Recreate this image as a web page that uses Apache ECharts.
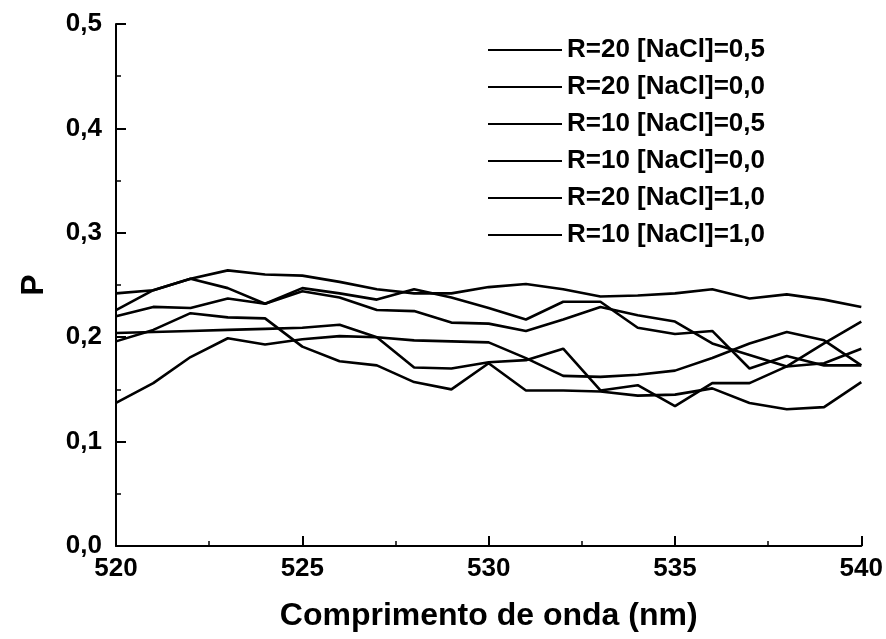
<!DOCTYPE html>
<html>
<head>
<meta charset="utf-8">
<script src="https://cdn.jsdelivr.net/npm/echarts@6/dist/echarts.min.js"></script>
<style>
  html, body { margin: 0; padding: 0; background: #fff; }
  #chart { width: 886px; height: 639px; }
</style>
</head>
<body>
<div id="chart"></div>
<script>
// comprimento de onda (nm)
const wavelengths = [520, 521, 522, 523, 524, 525, 526, 527, 528, 529, 530,
  531, 532, 533, 534, 535, 536, 537, 538, 539, 540]

const seriesNames = [
  'R=20 [NaCl]=0,5',
  'R=20 [NaCl]=0,0',
  'R=10 [NaCl]=0,5',
  'R=10 [NaCl]=0,0',
  'R=20 [NaCl]=1,0',
  'R=10 [NaCl]=1,0'
]

// values
const r20n05 = [0.242, 0.245, 0.256, 0.264, 0.260, 0.259, 0.253, 0.246, 0.242, 0.242, 0.248,
  0.251, 0.246, 0.239, 0.240, 0.242, 0.246, 0.237, 0.241, 0.236, 0.229]
const r20n00 = [0.226, 0.245, 0.256, 0.247, 0.232, 0.247, 0.242, 0.236, 0.246, 0.238, 0.228,
  0.217, 0.234, 0.234, 0.209, 0.203, 0.206, 0.170, 0.182, 0.173, 0.173]
const r10n05 = [0.220, 0.229, 0.228, 0.237, 0.232, 0.244, 0.238, 0.226, 0.225, 0.214, 0.213,
  0.206, 0.217, 0.229, 0.221, 0.215, 0.194, 0.183, 0.172, 0.175, 0.189]
const r10n00 = [0.196, 0.207, 0.223, 0.219, 0.218, 0.191, 0.177, 0.173, 0.157, 0.150, 0.175,
  0.149, 0.149, 0.148, 0.144, 0.145, 0.151, 0.137, 0.131, 0.133, 0.157]
const r20n10 = [0.204, 0.205, 0.206, 0.207, 0.208, 0.209, 0.212, 0.200, 0.171, 0.170, 0.176,
  0.178, 0.189, 0.149, 0.154, 0.134, 0.156, 0.156, 0.172, 0.194, 0.215]
const r10n10 = [0.137, 0.156, 0.181, 0.199, 0.193, 0.198, 0.201, 0.200, 0.197, 0.196, 0.195,
  0.180, 0.163, 0.162, 0.164, 0.168, 0.180, 0.194, 0.205, 0.197, 0.173]

const allValues = [r20n05, r20n00, r10n05, r10n00, r20n10, r10n10]

const yTicks = [0, 0.1, 0.2, 0.3, 0.4, 0.5]

const chart = echarts.init(document.getElementById('chart'))
const fam = '"Liberation Sans", Arial, sans-serif'

chart.setOption({
  animation: false,
  backgroundColor: '#fff',
  grid: { left: 116, right: 24, top: 24, bottom: 93 },
  legend: {
    show: true,
    orient: 'vertical',
    left: 483,
    top: 32,
    icon: 'rect',
    itemWidth: 74,
    itemHeight: 2,
    itemGap: 11,
    itemStyle: { color: '#000', borderWidth: 0 },
    textStyle: { fontFamily: fam, fontSize: 26, fontWeight: 'bold', color: '#000', lineHeight: 26 },
    data: seriesNames
  },
  xAxis: {
    type: 'value',
    min: 520,
    max: 540,
    interval: 5,
    name: 'Comprimento de onda (nm)',
    nameLocation: 'middle',
    nameGap: 54,
    nameTextStyle: { fontFamily: fam, fontSize: 32, fontWeight: 'bold', color: '#000' },
    axisLine: { lineStyle: { color: '#000', width: 2 } },
    axisTick: { inside: true, length: 10, lineStyle: { color: '#000', width: 2 } },
    minorTick: { show: true, splitNumber: 2, length: 5, lineStyle: { color: '#000', width: 1.5 } },
    splitLine: { show: false },
    axisLabel: { margin: 10, fontFamily: fam, fontSize: 26, fontWeight: 'bold', color: '#000' }
  },
  yAxis: {
    type: 'value',
    min: 0,
    max: 0.5,
    interval: 0.1,
    name: 'P',
    nameLocation: 'middle',
    nameGap: 66,
    nameRotate: 90,
    nameTextStyle: { fontFamily: fam, fontSize: 32, fontWeight: 'bold', color: '#000' },
    axisLine: { show: true, lineStyle: { color: '#000', width: 2 } },
    axisTick: { show: true, inside: true, length: 10, lineStyle: { color: '#000', width: 2 } },
    minorTick: { show: true, splitNumber: 2, length: 5, lineStyle: { color: '#000', width: 1.5 } },
    splitLine: { show: false },
    axisLabel: {
      margin: 14,
      fontFamily: fam,
      fontSize: 26,
      fontWeight: 'bold',
      color: '#000',
      formatter: v => {
        const t = yTicks.find(k => Math.abs(k - v) < 1e-9)
        return (t !== undefined ? t : v).toFixed(1).replace('.', ',')
      }
    }
  },
  series: seriesNames.map((name, i) => ({
    name: name,
    type: 'line',
    symbol: 'none',
    lineStyle: { color: '#000', width: 2.6 },
    itemStyle: { color: '#000' },
    data: wavelengths.map((x, j) => [x, allValues[i][j]])
  }))
})
</script>
</body>
</html>
